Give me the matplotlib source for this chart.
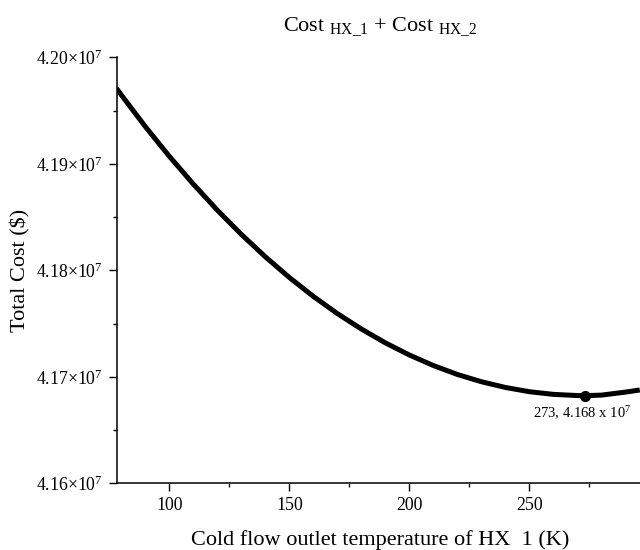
import numpy as np
import matplotlib
matplotlib.use("Agg")
import matplotlib.pyplot as plt
from matplotlib.ticker import FuncFormatter, MultipleLocator

plt.rcParams['font.family'] = ['Liberation Serif', 'DejaVu Serif']
plt.rcParams['mathtext.fontset'] = 'custom'
plt.rcParams['mathtext.rm'] = 'Liberation Serif'
plt.rcParams['mathtext.it'] = 'Liberation Serif:italic'
plt.rcParams['mathtext.bf'] = 'Liberation Serif:bold'

# Data
temperature = [78, 80, 90, 100, 110, 120, 130, 140, 150, 160, 170, 180, 190,
               200, 210, 220, 230, 240, 250, 260, 270, 273, 280, 290, 296]
total_cost = [4.19709, 4.19647, 4.19350, 4.19071, 4.18810, 4.18565, 4.18338,
              4.18127, 4.17933, 4.17755, 4.17594, 4.17449, 4.17319, 4.17205,
              4.17106, 4.17022, 4.16954, 4.16900, 4.16860, 4.16835, 4.16824,
              4.16823, 4.16828, 4.16856, 4.16876]
total_cost = [v * 1e7 for v in total_cost]
min_point_x = 273
min_point_y = 4.16823e7
min_label = r"273, 4.168 x 10$^{7}$"
x_ticks = [100, 150, 200, 250]
y_ticks = [4.16e7, 4.17e7, 4.18e7, 4.19e7, 4.20e7]

fig = plt.figure(figsize=(6.4, 5.5), dpi=100)
ax = fig.add_axes([116.7 / 640, 1 - 483.3 / 550, (640 - 116.7) / 640, (483.3 - 57.3) / 550])

ax.plot(temperature, total_cost, color='black', lw=3.6, solid_capstyle='butt',
        solid_joinstyle='round')
ax.plot([min_point_x], [min_point_y], 'o', color='black', ms=7)
ax.annotate(min_label, (min_point_x, min_point_y), xytext=(-2, -6),
            textcoords='offset points', ha='center', va='top', fontsize=10.5)

ax.set_xlim(78.1, 296.1)
ax.set_ylim(4.16e7, 4.20e7)
ax.set_xticks(x_ticks)
ax.set_yticks(y_ticks)
ax.xaxis.set_minor_locator(MultipleLocator(25))
ax.yaxis.set_minor_locator(MultipleLocator(0.005e7))

def yfmt(v, pos):
    return r"%.2f$\times$10$^{7}$" % (v / 1e7)
ax.yaxis.set_major_formatter(FuncFormatter(yfmt))

for s in ['top', 'right']:
    ax.spines[s].set_visible(False)
for s in ['left', 'bottom']:
    ax.spines[s].set_linewidth(1.1)
ax.tick_params(which='major', direction='out', length=6, width=1.0, labelsize=12.8, pad=4)
ax.tick_params(which='minor', direction='out', length=3, width=1.0)

fig.text(380 / 640, 1 - 31 / 550, r"Cost $_{\mathrm{HX\_1}}$ + Cost $_{\mathrm{HX\_2}}$",
         ha='center', va='baseline', fontsize=16)
fig.text(380 / 640, 1 - 545 / 550, "Cold flow outlet temperature of HX  1 (K)",
         ha='center', va='baseline', fontsize=16)
fig.text(20 / 640, 1 - 270 / 550, "Total Cost ($)", rotation=90,
         ha='center', va='center', fontsize=16)

fig.savefig("out.png", dpi=100)
